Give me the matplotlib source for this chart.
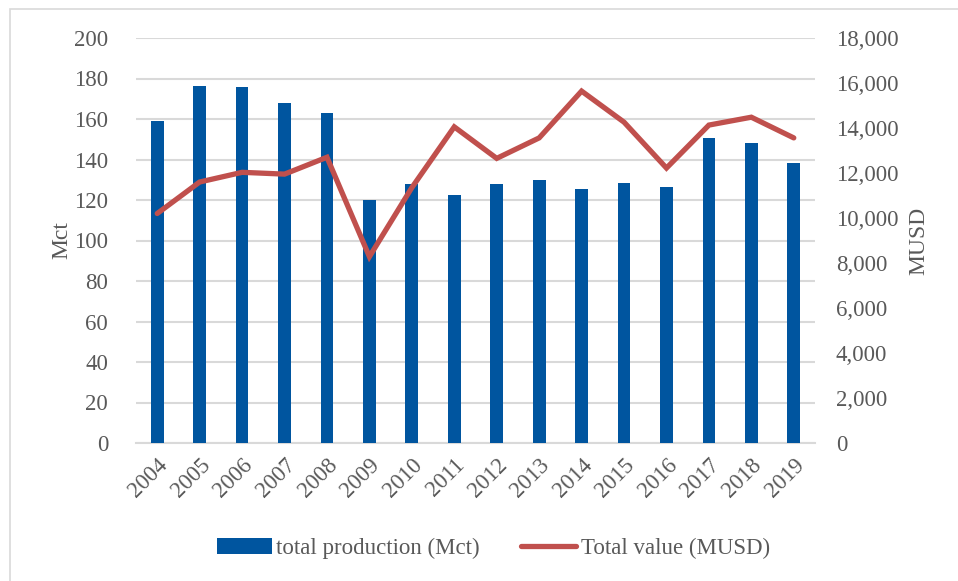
import matplotlib
matplotlib.use('Agg')
import matplotlib.pyplot as plt
from matplotlib.patches import Rectangle
from matplotlib.ticker import FuncFormatter

years = ['2004', '2005', '2006', '2007', '2008', '2009', '2010', '2011',
         '2012', '2013', '2014', '2015', '2016', '2017', '2018', '2019']
production_mct = [159, 176.5, 176, 168, 163, 120, 128, 122.5,
                  128, 129.7, 125.4, 128.2, 126.2, 150.7, 148.3, 138.2]
value_musd = [10200, 11600, 12030, 11950, 12700, 8280, 11350, 14050,
              12650, 13560, 15640, 14260, 12220, 14130, 14480, 13560]

grey = '#595959'
plt.rcParams['font.family'] = ['Liberation Serif', 'DejaVu Serif']
fs = 16.5

fig = plt.figure(figsize=(9.58, 5.81), dpi=100)
ax = fig.add_axes([136 / 958, 1 - 443 / 581, 679 / 958, 405 / 581])
ax2 = ax.twinx()

x = list(range(len(years)))
bars = ax.bar(x, production_mct, width=0.3, color='#00559F', zorder=3,
              label='total production (Mct)')
line, = ax2.plot(x, value_musd, color='#C0504D', lw=3.8, solid_capstyle='round',
                 solid_joinstyle='miter', label='Total value (MUSD)')

ax.set_xlim(-0.5, len(years) - 0.5)
ax.set_ylim(0, 200)
ax.set_yticks(range(0, 201, 20))
ax2.set_ylim(0, 18000)
ax2.set_yticks(range(0, 18001, 2000))
ax2.yaxis.set_major_formatter(FuncFormatter(lambda v, p: f'{int(v):,}'))

ax.set_xticks(x)
ax.set_xticklabels(years, rotation=45, ha='right', va='top', rotation_mode='anchor')
ax.grid(axis='y', color='#d9d9d9', lw=1.5, zorder=0)
ax.set_axisbelow(True)

for a in (ax, ax2):
    for s in a.spines.values():
        s.set_visible(False)
    a.tick_params(length=0, colors=grey, labelsize=fs)
ax.spines['bottom'].set_visible(True)
ax.spines['bottom'].set_color('#d9d9d9')
ax.spines['bottom'].set_linewidth(1.5)
ax.tick_params(axis='x', pad=8)
ax.tick_params(axis='y', pad=20)
ax2.tick_params(axis='y', pad=15)

ax.set_ylabel('Mct', color=grey, fontsize=17, labelpad=1)
ax2.set_ylabel('MUSD', color=grey, fontsize=17, labelpad=7)

# make sure the line sits above the bars
ax.set_zorder(1)
ax.patch.set_visible(False)
ax2.set_zorder(2)

fig.legend(handles=[bars, line], loc='center', bbox_to_anchor=(0.515, 1 - 548 / 581),
           ncol=2, frameon=False, handlelength=2.4, columnspacing=1.8,
           handletextpad=0.2, labelcolor=grey, fontsize=fs)

fig.patches.append(Rectangle((10 / 958, -0.1), 1.2, 1 - 9 / 581 + 0.1,
                             transform=fig.transFigure, fill=False,
                             edgecolor='#d9d9d9', lw=1.2))

fig.savefig('out.png', dpi=100)
